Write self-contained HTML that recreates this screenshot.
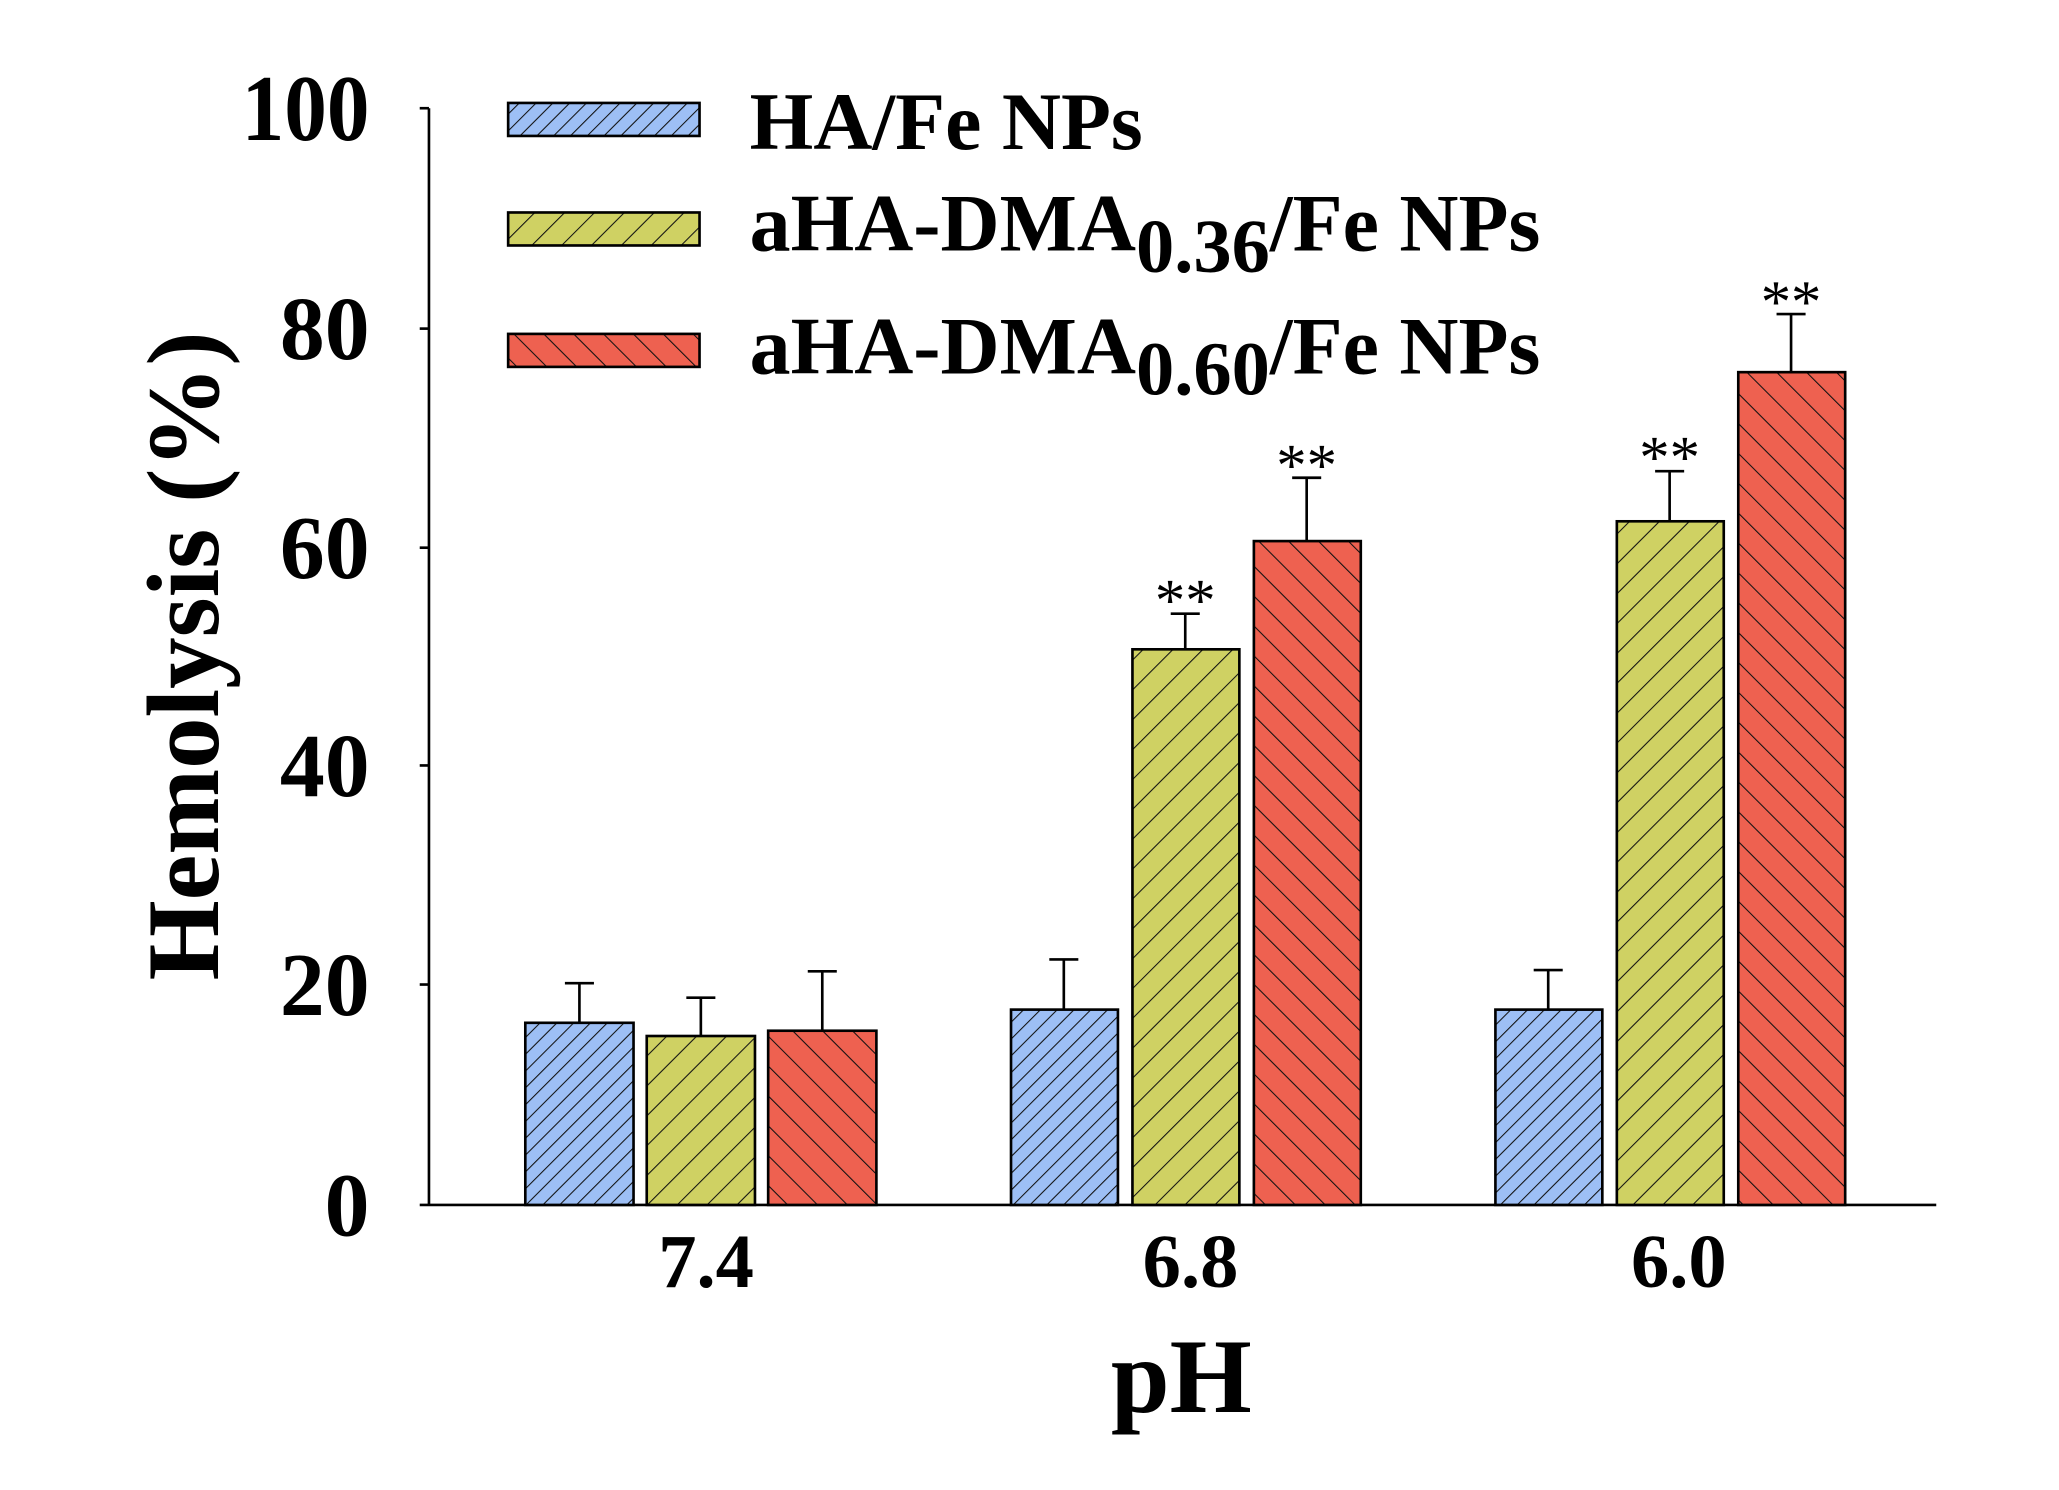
<!DOCTYPE html>
<html><head><style>html,body{margin:0;padding:0;background:#fff}svg{display:block}</style></head>
<body>
<svg width="2059" height="1490" viewBox="0 0 1560 1129" preserveAspectRatio="none" xmlns="http://www.w3.org/2000/svg" font-family="'Liberation Serif', serif">
<defs>
<pattern id="pb" patternUnits="userSpaceOnUse" width="9" height="9" patternTransform="rotate(45)"><rect width="9" height="9" fill="#9dbff5"/><line x1="0" y1="0" x2="0" y2="9" stroke="#111" stroke-width="1.6"/></pattern>
<pattern id="pg" patternUnits="userSpaceOnUse" width="16" height="16" patternTransform="rotate(45)"><rect width="16" height="16" fill="#cfd163"/><line x1="0" y1="0" x2="0" y2="16" stroke="#111" stroke-width="1.6"/></pattern>
<pattern id="pr" patternUnits="userSpaceOnUse" width="16" height="16" patternTransform="rotate(-45)"><rect width="16" height="16" fill="#ee6150"/><line x1="0" y1="0" x2="0" y2="16" stroke="#111" stroke-width="1.6"/></pattern>
</defs>
<g stroke="#000" stroke-width="2">
<line x1="325" y1="82" x2="325" y2="913"/>
<line x1="318" y1="913" x2="1467" y2="913"/>
<line x1="318" y1="82" x2="325" y2="82"/>
<line x1="318" y1="249" x2="325" y2="249"/>
<line x1="318" y1="415" x2="325" y2="415"/>
<line x1="318" y1="580" x2="325" y2="580"/>
<line x1="318" y1="746" x2="325" y2="746"/>
</g>
<g font-weight="bold" font-size="68" text-anchor="end">
<text x="280" y="106" transform="translate(280,0) scale(0.95,1.05) translate(-280,-5)">100</text>
<text x="280" y="272">80</text><text x="280" y="438">60</text>
<text x="280" y="603">40</text><text x="280" y="769">20</text><text x="280" y="936">0</text>
</g>
<g font-weight="bold" font-size="58" text-anchor="middle">
<text x="535" y="975">7.4</text><text x="902" y="975">6.8</text><text x="1272" y="975">6.0</text>
</g>
<text x="895" y="1070" font-weight="bold" font-size="80" text-anchor="middle">pH</text>
<text transform="translate(165,497) rotate(-90)" font-weight="bold" font-size="78" text-anchor="middle">Hemolysis (%)</text>
<g stroke="#000" stroke-width="2">
<path d="M439 775V745M428 745H450M531 785V756M520 756H542M623 781V736M612 736H634
M806 765V727M795 727H817M898 492V465M887 465H909M990 410V362M979 362H1001
M1173 765V735M1162 735H1184M1265 395V357M1254 357H1276M1357 282V238M1346 238H1368" fill="none"/>
<rect x="398" y="775" width="82" height="138" fill="url(#pb)"/>
<rect x="490" y="785" width="82" height="128" fill="url(#pg)"/>
<rect x="582" y="781" width="82" height="132" fill="url(#pr)"/>
<rect x="766" y="765" width="81" height="148" fill="url(#pb)"/>
<rect x="858" y="492" width="81" height="421" fill="url(#pg)"/>
<rect x="950" y="410" width="81" height="503" fill="url(#pr)"/>
<rect x="1133" y="765" width="81" height="148" fill="url(#pb)"/>
<rect x="1225" y="395" width="81" height="518" fill="url(#pg)"/>
<rect x="1317" y="282" width="81" height="631" fill="url(#pr)"/>
<rect x="385" y="78" width="145" height="25" fill="url(#pb)"/>
<rect x="385" y="161" width="145" height="25" fill="url(#pg)"/>
<rect x="385" y="253" width="145" height="25" fill="url(#pr)"/>
</g>
<g font-size="46" text-anchor="middle">
<text x="898" y="470">**</text><text x="990" y="368">**</text><text x="1265" y="362">**</text><text x="1357" y="244">**</text>
</g>
<g font-weight="bold" font-size="62">
<text x="568" y="113">HA/Fe NPs</text>
<text x="568" y="190">aHA-DMA<tspan font-size="58" dy="16">0.36</tspan><tspan dy="-16">/Fe NPs</tspan></text>
<text x="568" y="283">aHA-DMA<tspan font-size="58" dy="16">0.60</tspan><tspan dy="-16">/Fe NPs</tspan></text>
</g>
</svg>
</body></html>
